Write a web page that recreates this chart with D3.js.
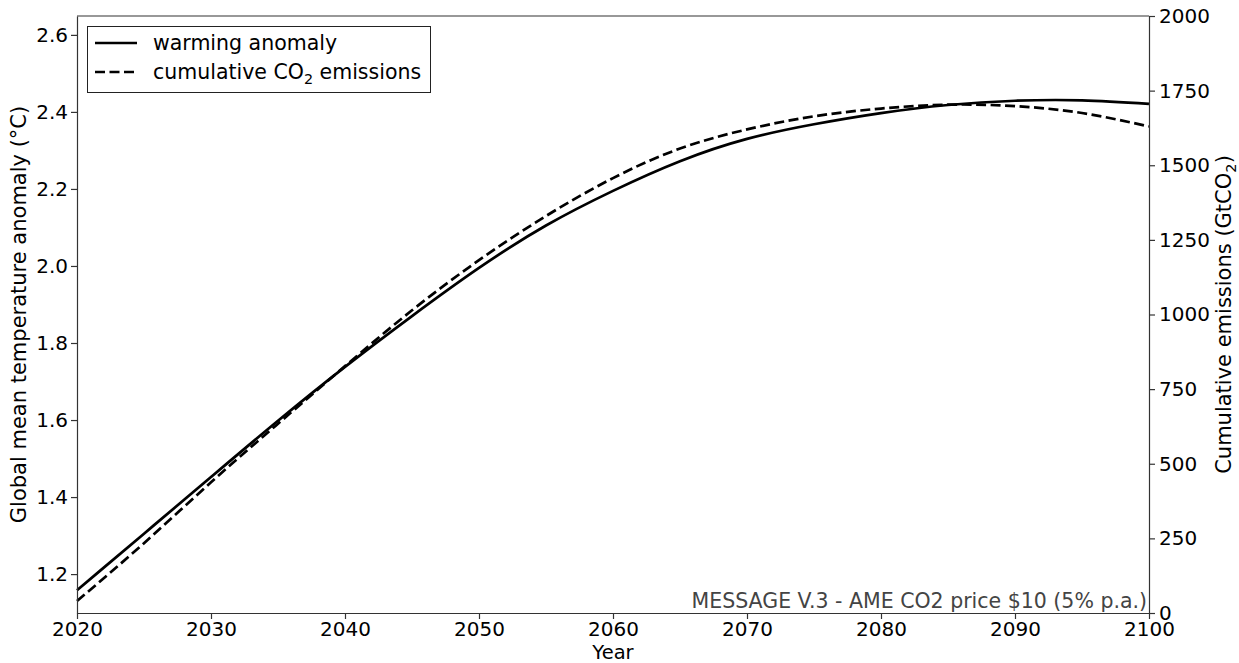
<!DOCTYPE html>
<html><head><meta charset="utf-8">
<script src="https://cdn.jsdelivr.net/npm/d3@7"></script>
<style>
html,body{margin:0;padding:0;background:#fff;}
text{font-family:"DejaVu Sans",sans-serif;}
</style></head>
<body>
<svg id="chart" width="1239" height="663"></svg>
<script>
const years = [2020,2025,2030,2035,2040,2045,2050,2055,2060,2065,2070,2075,2080,2085,2090,2095,2100];
const warming = [1.158,1.305,1.452,1.598,1.738,1.870,1.995,2.105,2.195,2.272,2.330,2.368,2.397,2.418,2.429,2.430,2.421];
const cumEmissions = [40,234,438,634,827,1014,1182,1330,1457,1556,1620,1664,1690,1703,1698,1675,1630];
const xTicks = [2020,2030,2040,2050,2060,2070,2080,2090,2100];
const yLeftTicks = [1.2,1.4,1.6,1.8,2.0,2.2,2.4,2.6];
const yRightTicks = [0,250,500,750,1000,1250,1500,1750,2000];
const legendLabels = ["warming anomaly","cumulative CO2 emissions"];
const annotation = "MESSAGE V.3 - AME CO2 price $10 (5% p.a.)";

const svg = d3.select("#chart");
const L = 77, R = 1149, T = 16, B = 613;
const FS = 20, FL = 20.5, FA = 21;
const x = d3.scaleLinear().domain([2020,2100]).range([L,R]);
const yL = d3.scaleLinear().domain([1.099,2.649]).range([B,T]);
const yR = d3.scaleLinear().domain([0,2000]).range([B,T]);

// lines
const lineW = d3.line().x((d,i)=>x(years[i])).y(d=>yL(d)).curve(d3.curveNatural);
const lineC = d3.line().x((d,i)=>x(years[i])).y(d=>yR(d)).curve(d3.curveNatural);
svg.append("path").attr("d",lineW(warming)).attr("fill","none").attr("stroke","#000").attr("stroke-width",2.7);
svg.append("path").attr("d",lineC(cumEmissions)).attr("fill","none").attr("stroke","#000").attr("stroke-width",2.7).attr("stroke-dasharray","10,4.5");

// axes
function styleAxis(g){
  g.selectAll("path.domain").attr("stroke","#333").attr("stroke-width",1.2);
  g.selectAll(".tick line").attr("stroke","#333").attr("stroke-width",1.2);
  g.selectAll(".tick text").attr("font-size",FS).attr("fill","#000").attr("font-family","DejaVu Sans");
}
const gx = svg.append("g").attr("transform",`translate(0,${B})`)
  .call(d3.axisBottom(x).tickValues(xTicks).tickFormat(d3.format("d")).tickSize(6).tickPadding(3).tickSizeOuter(0));
styleAxis(gx);
const gyl = svg.append("g").attr("transform",`translate(${L},0)`)
  .call(d3.axisLeft(yL).tickValues(yLeftTicks).tickFormat(d3.format(".1f")).tickSize(6).tickPadding(3).tickSizeOuter(0));
styleAxis(gyl);
const gyr = svg.append("g").attr("transform",`translate(${R},0)`)
  .call(d3.axisRight(yR).tickValues(yRightTicks).tickFormat(d3.format("d")).tickSize(6).tickPadding(4).tickSizeOuter(0));
styleAxis(gyr);
// top spine
svg.append("line").attr("x1",L).attr("x2",R).attr("y1",T).attr("y2",T).attr("stroke","#333").attr("stroke-width",1.2);

// axis labels
svg.append("text").attr("x",(L+R)/2).attr("y",659).attr("text-anchor","middle").attr("font-size",19.5).text("Year");
svg.append("text").attr("transform",`translate(26,${(T+B)/2}) rotate(-90)`).attr("text-anchor","middle").attr("font-size",FA)
  .text("Global mean temperature anomaly (°C)");
const rl = svg.append("text").attr("transform",`translate(1231,${(T+B)/2}) rotate(-90)`).attr("text-anchor","middle").attr("font-size",FA);
rl.append("tspan").text("Cumulative emissions (GtCO");
rl.append("tspan").attr("font-size",FA*0.7).attr("dy",5).text("2");
rl.append("tspan").attr("dy",-5).text(")");

// annotation
svg.append("text").attr("x",R-2).attr("y",B-5).attr("text-anchor","end").attr("font-size",FL).attr("fill","#444").text(annotation);

// legend
const lg = svg.append("g");
lg.append("rect").attr("x",87.5).attr("y",26.5).attr("width",343).attr("height",66).attr("fill","#fff").attr("stroke","#222").attr("stroke-width",1);
const rows = [43,72];
legendLabels.forEach((lab,i)=>{
  lg.append("line").attr("x1",95).attr("x2",137).attr("y1",rows[i]).attr("y2",rows[i]).attr("stroke","#000").attr("stroke-width",2.7)
    .attr("stroke-dasharray", i===1 ? "10,4.5" : null);
  const t = lg.append("text").attr("x",153).attr("y",rows[i]+7).attr("font-size",FL);
  if(i===1){
    t.append("tspan").text("cumulative CO");
    t.append("tspan").attr("font-size",FL*0.7).attr("dy",5).text("2");
    t.append("tspan").attr("dy",-5).text(" emissions");
  } else t.text(lab);
});
</script>
</body></html>
